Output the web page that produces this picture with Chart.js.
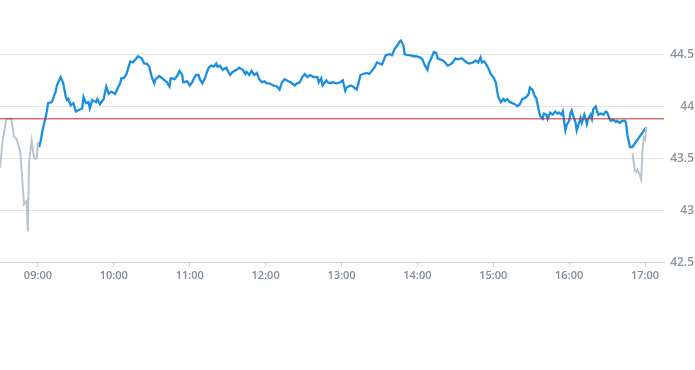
<!DOCTYPE html>
<html>
<head>
<meta charset="utf-8">
<script src="https://cdn.jsdelivr.net/npm/chart.js@4/dist/chart.umd.min.js"></script>
<style>
  html, body { margin: 0; padding: 0; background: #fff; }
  #wrap { width: 695px; height: 370px; }
</style>
</head>
<body>
<div id="wrap"><canvas id="price-chart" width="695" height="370"></canvas></div>
<script>
// pre-market (gray)
const preTimes = ['08:30','08:32','08:35','08:39','08:41','08:43','08:46','08:49','08:51','08:52','08:53','08:55','08:57','08:59','09:00'];
const preValues = [43.41,43.66,43.88,43.88,43.71,43.69,43.57,43.06,43.09,42.80,43.47,43.67,43.50,43.50,43.66];

// regular session (blue)
const mainTimes = [
  '09:01','09:02','09:04','09:06','09:07','09:08','09:11','09:13','09:14','09:15','09:18','09:20','09:22','09:23','09:24','09:26','09:28','09:30',
  '09:33','09:35','09:36','09:38','09:40','09:41','09:43','09:46','09:47','09:49','09:52','09:54','09:56','09:58','10:01','10:03','10:05','10:06',
  '10:08','10:10','10:12','10:13','10:15','10:18','10:19','10:22','10:24','10:26','10:28','10:30','10:32','10:33','10:36','10:39','10:40','10:42',
  '10:44','10:45','10:48','10:50','10:52','10:54','10:55','10:58','11:00','11:02','11:03','11:05','11:07','11:08','11:10','11:12','11:14','11:15',
  '11:17','11:19','11:21','11:22','11:24','11:26','11:29','11:30','11:32','11:34','11:37','11:39','11:42','11:44','11:45','11:47','11:49','11:51',
  '11:53','11:55','11:57','11:59','12:01','12:03','12:06','12:09','12:11','12:13','12:15','12:18','12:20','12:23','12:25','12:27','12:29','12:31',
  '12:33','12:35','12:38','12:41','12:42','12:44','12:45','12:48','12:49','12:51','12:53','12:56','12:59','13:01','13:03','13:04','13:07','13:09',
  '13:12','13:13','13:15','13:17','13:20','13:22','13:24','13:26','13:28','13:30','13:32','13:33','13:35','13:38','13:40','13:42','13:44','13:46',
  '13:47','13:49','13:50','13:52','13:54','13:57','13:59','14:02','14:04','14:06','14:08','14:09','14:11','14:13','14:15','14:16','14:18','14:20',
  '14:22','14:24','14:26','14:28','14:30','14:32','14:35','14:37','14:39','14:41','14:44','14:46','14:48','14:50','14:51','14:53','14:55','14:57',
  '14:58','15:00','15:02','15:03','15:04','15:06','15:08','15:09','15:11','15:13','15:15','15:17','15:19','15:21','15:23','15:25','15:27','15:28',
  '15:29','15:31','15:33','15:34','15:36','15:37','15:39','15:40','15:42','15:43','15:45','15:47','15:49','15:51','15:52','15:54','15:55','15:57',
  '15:58','16:00','16:01','16:02','16:04','16:05','16:06','16:08','16:09','16:10','16:12','16:13','16:14','16:15','16:17','16:18','16:19','16:21',
  '16:22','16:23','16:25','16:27','16:29','16:30','16:32','16:33','16:35','16:37','16:38','16:40','16:42','16:44','16:45','16:46','16:48','16:50',
  '17:01'
];
const mainValues = [
  43.61,43.66,43.79,43.89,43.95,44.03,44.04,44.11,44.14,44.20,44.28,44.22,44.09,44.06,44.07,44.01,44.03,43.95,
  43.97,43.98,44.09,44.03,44.04,43.98,44.06,44.04,44.07,44.02,44.07,44.19,44.12,44.14,44.12,44.17,44.22,44.27,
  44.27,44.31,44.39,44.43,44.42,44.46,44.48,44.46,44.41,44.41,44.38,44.28,44.22,44.26,44.29,44.26,44.25,44.23,
  44.19,44.27,44.26,44.29,44.34,44.30,44.23,44.24,44.20,44.23,44.26,44.30,44.30,44.26,44.22,44.27,44.34,44.37,
  44.39,44.38,44.41,44.38,44.39,44.35,44.37,44.34,44.30,44.33,44.35,44.37,44.35,44.31,44.33,44.30,44.34,44.30,
  44.32,44.26,44.23,44.24,44.22,44.22,44.20,44.19,44.16,44.23,44.26,44.24,44.23,44.20,44.22,44.23,44.28,44.31,
  44.28,44.30,44.28,44.28,44.23,44.27,44.20,44.25,44.23,44.22,44.23,44.22,44.23,44.25,44.15,44.18,44.20,44.19,
  44.16,44.20,44.30,44.31,44.32,44.31,44.34,44.37,44.42,44.41,44.40,44.43,44.49,44.50,44.49,44.55,44.58,44.62,
  44.63,44.58,44.50,44.49,44.49,44.48,44.48,44.47,44.45,44.39,44.35,44.41,44.46,44.52,44.51,44.46,44.45,44.44,
  44.42,44.39,44.40,44.42,44.46,44.45,44.46,44.44,44.42,44.41,44.42,44.44,44.42,44.47,44.42,44.43,44.39,44.34,
  44.31,44.28,44.23,44.15,44.09,44.04,44.07,44.05,44.07,44.04,44.03,44.02,44.00,44.02,44.07,44.08,44.10,44.12,
  44.18,44.16,44.09,44.08,43.96,43.91,43.88,43.93,43.92,43.88,43.94,43.92,43.95,43.93,43.94,43.92,43.95,43.77,
  43.82,43.86,43.93,43.96,43.88,43.85,43.77,43.85,43.89,43.84,43.92,43.88,43.83,43.88,43.92,43.88,43.97,44.00,
  43.96,43.92,43.93,43.92,43.95,43.94,43.88,43.86,43.87,43.85,43.86,43.84,43.86,43.86,43.84,43.73,43.61,43.61,
  43.80
];

// after-hours (gray)
const postTimes = ['16:50','16:52','16:53','16:54','16:56','16:57','16:58','16:59','17:00','17:01'];
const postValues = [43.55,43.38,43.37,43.39,43.34,43.30,43.57,43.70,43.68,43.80];

const prevClose = 43.88;
const xTickLabels = ['09:00','10:00','11:00','12:00','13:00','14:00','15:00','16:00','17:00'];
const yTickLabels = [42.5, 43, 43.5, 44, 44.5];

function toMin(s) {
    let p = s.split(':');
    return parseInt(p[0], 10) * 60 + parseInt(p[1], 10);
}
function fmtMin(m) {
    let h = Math.floor(m / 60), mm = m % 60;
    return (h < 10 ? '0' : '') + h + ':' + (mm < 10 ? '0' : '') + mm;
}
function pts(times, values) {
    return times.map(function (t, i) { return {x: toMin(t), y: values[i]}; });
}

const xMin = toMin('08:30');
const xMax = toMin('17:15');

new Chart(document.getElementById('price-chart').getContext('2d'), {
    type: 'line',
    data: {
        datasets: [
            {
                label: 'Previous close',
                data: [{x: xMin, y: prevClose}, {x: xMax, y: prevClose}],
                borderColor: '#c62d28',
                borderWidth: 1,
                pointRadius: 0
            },
            {
                label: 'Pre-market',
                data: pts(preTimes, preValues),
                borderColor: '#b9c5cc',
                borderWidth: 2,
                pointRadius: 0
            },
            {
                label: 'After-hours',
                data: pts(postTimes, postValues),
                borderColor: '#b9c5cc',
                borderWidth: 2,
                pointRadius: 0
            },
            {
                label: 'Price',
                data: pts(mainTimes, mainValues),
                borderColor: '#1a8fe0',
                borderWidth: 2.3,
                pointRadius: 0
            }
        ]
    },
    options: {
        responsive: false,
        animation: false,
        maintainAspectRatio: false,
        layout: {
            padding: {left: 0, right: 1, top: 0, bottom: 86}
        },
        elements: {
            line: {tension: 0}
        },
        scales: {
            x: {
                type: 'linear',
                min: xMin,
                max: xMax,
                afterBuildTicks: function (scale) {
                    scale.ticks = xTickLabels.map(function (l) { return {value: toMin(l)}; });
                },
                grid: {
                    drawOnChartArea: false,
                    drawTicks: true,
                    tickLength: 4,
                    color: '#cdd4da'
                },
                border: {color: '#cdd4da'},
                ticks: {
                    autoSkip: false,
                    maxRotation: 0,
                    padding: 2,
                    color: '#7f8c98',
                    font: {family: 'Open Sans', size: 11, weight: '600'},
                    callback: function (v) { return fmtMin(v); }
                }
            },
            y: {
                position: 'right',
                min: 42.5,
                max: 44.95,
                afterBuildTicks: function (scale) {
                    scale.ticks = yTickLabels.map(function (v) { return {value: v}; });
                },
                afterFit: function (scale) { scale.width = 30; },
                grid: {
                    drawTicks: false,
                    color: '#e4e4e4'
                },
                border: {display: false},
                ticks: {
                    crossAlign: 'far',
                    padding: 0,
                    color: '#8c969e',
                    font: {family: 'Open Sans', size: 12, weight: '600'},
                    callback: function (v) { return String(v); }
                }
            }
        },
        plugins: {
            legend: {display: false},
            tooltip: {enabled: false}
        }
    }
});
</script>
</body>
</html>
